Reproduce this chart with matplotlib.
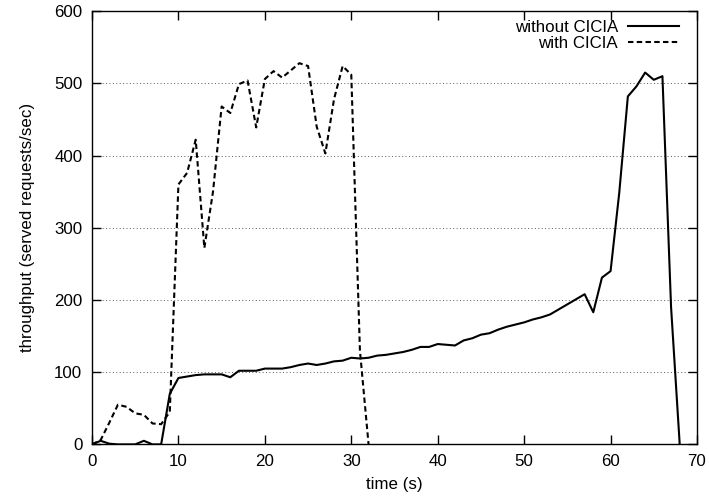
import matplotlib
matplotlib.use('Agg')
import matplotlib.pyplot as plt

# data
time_without = list(range(0, 69))
throughput_without = [0, 5, 1, 0, 0, 0, 5, 0, 0, 70,
                      92, 94, 96, 97, 97, 97, 93, 102, 102, 102,
                      105, 105, 105, 107, 110, 112, 110, 112, 115, 116,
                      120, 119, 120, 123, 124, 126, 128, 131, 135, 135,
                      139, 138, 137, 144, 147, 152, 154, 159, 163, 166,
                      169, 173, 176, 180, 187, 194, 201, 208, 183, 231,
                      240, 348, 482, 496, 515, 505, 510, 190, 0]
time_with = list(range(0, 33))
throughput_with = [0, 6, 30, 55, 52, 43, 41, 29, 28, 45,
                   360, 376, 422, 272, 350, 468, 459, 499, 504, 439,
                   506, 517, 508, 518, 528, 524, 440, 403, 478, 524,
                   512, 130, 0]
x_ticks = [0, 10, 20, 30, 40, 50, 60, 70]
y_ticks = [0, 100, 200, 300, 400, 500, 600]

plt.rcParams['font.family'] = ['Liberation Sans', 'DejaVu Sans']
FS = 12.2

fig = plt.figure(figsize=(7.09, 4.99), dpi=100)
ax = fig.add_axes([92/709, 1 - 444.4/499, (697-92)/709, (444.4-11.2)/499])

ax.plot(time_without, throughput_without, color='black', lw=1.5,
        label='without CICIA')
ax.plot(time_with, throughput_with, color='black', lw=1.5,
        linestyle=(0, (2.6, 1.6)), label='with CICIA')

ax.set_xlim(0, 70)
ax.set_ylim(0, 600)
ax.set_xticks(x_ticks)
ax.set_yticks(y_ticks)
ax.tick_params(direction='in', length=6.5, width=1, top=True, right=True,
               labelsize=FS, colors='black')
ax.tick_params(axis='x', pad=7)
ax.tick_params(axis='y', pad=7)
for s in ax.spines.values():
    s.set_linewidth(1.0)
ax.yaxis.grid(True, linestyle=(0, (1, 2.5)), color='0.35', lw=0.7)
ax.set_axisbelow(True)

ax.set_xlabel('time (s)', fontsize=FS, labelpad=6)
ax.set_ylabel('throughput (served requests/sec)', fontsize=FS, labelpad=14)

leg = ax.legend(loc='upper right', bbox_to_anchor=(679/709, 1 - 20/499),
                bbox_transform=fig.transFigure, frameon=False,
                markerfirst=False, fontsize=FS, handlelength=3.0,
                handletextpad=0.6, borderpad=0, borderaxespad=0,
                labelspacing=0.05)
for t in leg.get_texts():
    t.set_ha('right')

fig.savefig('out.png', dpi=100)
